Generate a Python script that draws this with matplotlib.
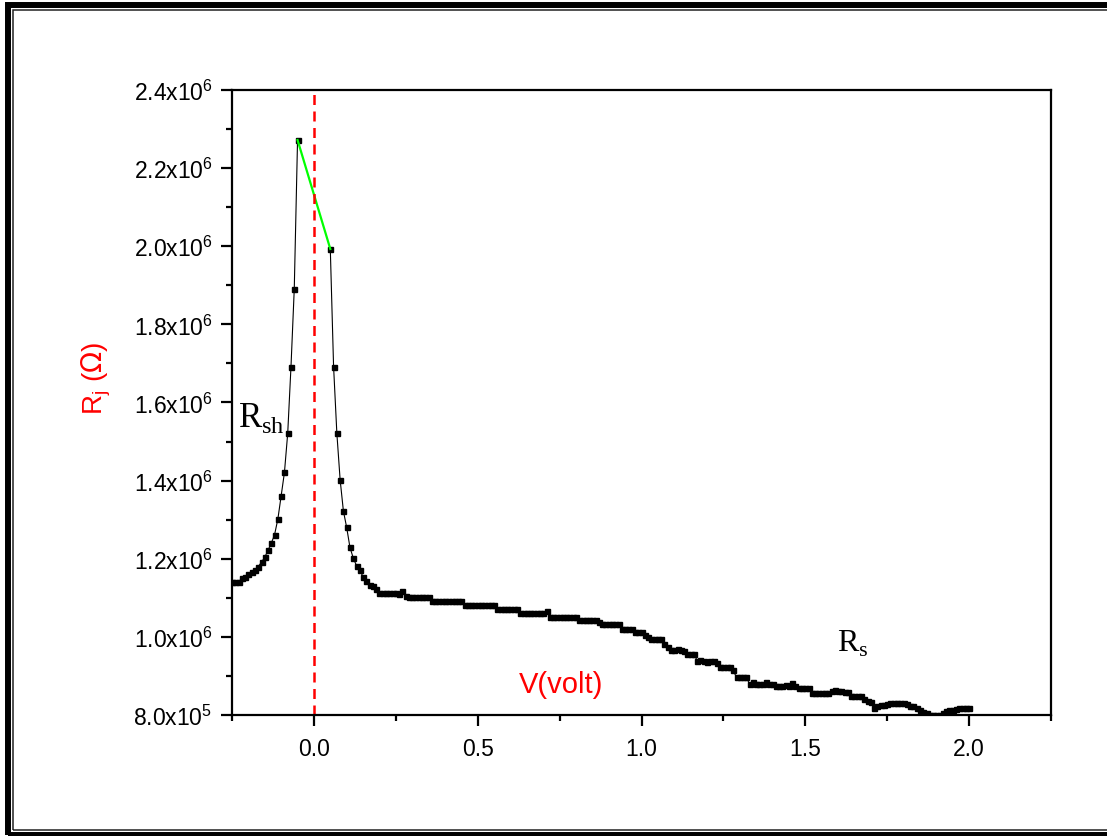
import numpy as np
import matplotlib
matplotlib.use("Agg")
import matplotlib.pyplot as plt
from matplotlib.patches import Rectangle
from matplotlib.ticker import MultipleLocator, FuncFormatter

plt.rcParams['font.family'] = ['Liberation Sans', 'DejaVu Sans']

# bias sweep, 10 mV steps
v_step = 0.01
v_left_start = -0.25    # left branch: -0.25 ... -0.05 V
v_right_start = 0.05    # right branch: 0.05 ... 2.00 V

# junction resistance R_j, in units of 1e6 ohm
r_left = [1.140, 1.140, 1.141, 1.150, 1.154, 1.161, 1.167, 1.171, 1.180, 1.191,
          1.204, 1.222, 1.240, 1.262, 1.302, 1.361, 1.421, 1.521, 1.692, 1.891,
          2.272]

r_right = [1.993, 1.692, 1.521, 1.402, 1.322, 1.280, 1.229, 1.202, 1.182, 1.170,
           1.154, 1.142, 1.133, 1.129, 1.122,
           1.112, 1.111, 1.111, 1.111, 1.111, 1.111, 1.110, 1.118, 1.104, 1.103,
           1.103, 1.103, 1.103, 1.103, 1.103, 1.102, 1.091, 1.091, 1.091, 1.091,
           1.091, 1.091, 1.091, 1.091, 1.091, 1.091, 1.082, 1.082, 1.082, 1.082,
           1.082, 1.082, 1.082, 1.082, 1.082, 1.082, 1.071, 1.071, 1.071, 1.071,
           1.071, 1.071, 1.071, 1.061, 1.061, 1.061, 1.061, 1.061, 1.061, 1.061,
           1.061, 1.066, 1.052, 1.052, 1.052, 1.052, 1.052, 1.052, 1.052, 1.052,
           1.052, 1.042, 1.042, 1.042, 1.042, 1.042, 1.042, 1.037, 1.033, 1.033,
           1.033, 1.033, 1.033, 1.033, 1.020, 1.020, 1.020, 1.020, 1.012, 1.012,
           1.012, 1.006, 1.000, 0.995, 0.995, 0.995, 0.995, 0.982, 0.975, 0.967,
           0.967, 0.970, 0.967, 0.964, 0.956, 0.956, 0.956, 0.939, 0.941, 0.939,
           0.936, 0.939, 0.939, 0.934, 0.922, 0.922, 0.922, 0.922, 0.914, 0.896,
           0.896, 0.896, 0.896, 0.879, 0.884, 0.879, 0.879, 0.879, 0.884, 0.879,
           0.879, 0.873, 0.873, 0.873, 0.876, 0.873, 0.882, 0.873, 0.870, 0.870,
           0.870, 0.870, 0.855, 0.855, 0.855, 0.855, 0.855, 0.855, 0.862, 0.864,
           0.862, 0.862, 0.860, 0.858, 0.849, 0.849, 0.849, 0.849, 0.840, 0.836,
           0.832, 0.819, 0.822, 0.825, 0.826, 0.827, 0.830, 0.830, 0.831, 0.830,
           0.830, 0.828, 0.824, 0.822, 0.818, 0.812, 0.808, 0.804, 0.801, 0.800,
           0.800, 0.801, 0.806, 0.810, 0.812, 0.813, 0.816, 0.818, 0.818, 0.819,
           0.818]

x_ticks = [0.0, 0.5, 1.0, 1.5, 2.0]

v_left = np.round(v_left_start + v_step * np.arange(len(r_left)), 2)
v_right = np.round(v_right_start + v_step * np.arange(len(r_right)), 2)
r_left = np.array(r_left) * 1e6
r_right = np.array(r_right) * 1e6


def sci_label(val, pos):
    e = int(np.floor(np.log10(val)))
    m = val / 10 ** e
    return r"$\mathregular{%.1fx10^{%d}}$" % (m, e)


fig = plt.figure(figsize=(11.07, 8.37), dpi=100)
ax = fig.add_axes([0.2096, 0.1446, 0.7398, 0.7467])

for v, r in [(v_left, r_left), (v_right, r_right)]:
    ax.plot(v, r, color='black', lw=0.8, marker='s', ms=3.6, mfc='black', mec='black')

# linear part across zero bias
ax.plot([v_left[-1], v_right[0]], [r_left[-1], r_right[0]], color='#00ff00', lw=1.6)

ax.axvline(0, color='red', lw=1.8, ls=(0, (4, 2.6)))

ax.set_xlim(-0.25, 2.25)
ax.set_ylim(8e5, 2.4e6)
ax.set_xticks(x_ticks)
ax.xaxis.set_minor_locator(MultipleLocator(0.25))
ax.yaxis.set_major_locator(MultipleLocator(2e5))
ax.yaxis.set_minor_locator(MultipleLocator(1e5))
ax.yaxis.set_major_formatter(FuncFormatter(sci_label))
ax.xaxis.set_major_formatter(FuncFormatter(lambda v, p: f"{v:.1f}"))

for s in ax.spines.values():
    s.set_linewidth(1.6)
ax.tick_params(which='major', direction='out', length=8, width=1.6, labelsize=16.5, pad=6)
ax.tick_params(which='minor', direction='out', length=4.5, width=1.6)
ax.tick_params(axis='x', which='major', pad=8)

ax.set_ylabel(r"R$_\mathregular{j}$ ($\Omega$)", color='red', fontsize=20)
ax.yaxis.set_label_coords(-0.145, 0.54)

ax.text(0.755, 0.859e6, "V(volt)", color='red', fontsize=21, ha='center', va='baseline')
ax.text(-0.232, 1.54e6, r"R$_\mathregular{sh}$", fontsize=25, family='Liberation Serif',
        va='baseline')
ax.text(1.596, 0.964e6, r"R$_\mathregular{s}$", fontsize=23, family='Liberation Serif',
        va='baseline')

# double border round the picture
W, H = 1107, 837
fig.add_artist(Rectangle((8 / W, 1 - 836 / H), (1120 - 8) / W, (836 - 6) / H,
                         transform=fig.transFigure, fill=False, lw=4.3, ec='black'))
fig.add_artist(Rectangle((12.5 / W, 1 - 831 / H), (1120 - 12.5) / W, (831 - 10.5) / H,
                         transform=fig.transFigure, fill=False, lw=1.1, ec='#222222'))

fig.savefig("out.png", dpi=100)
